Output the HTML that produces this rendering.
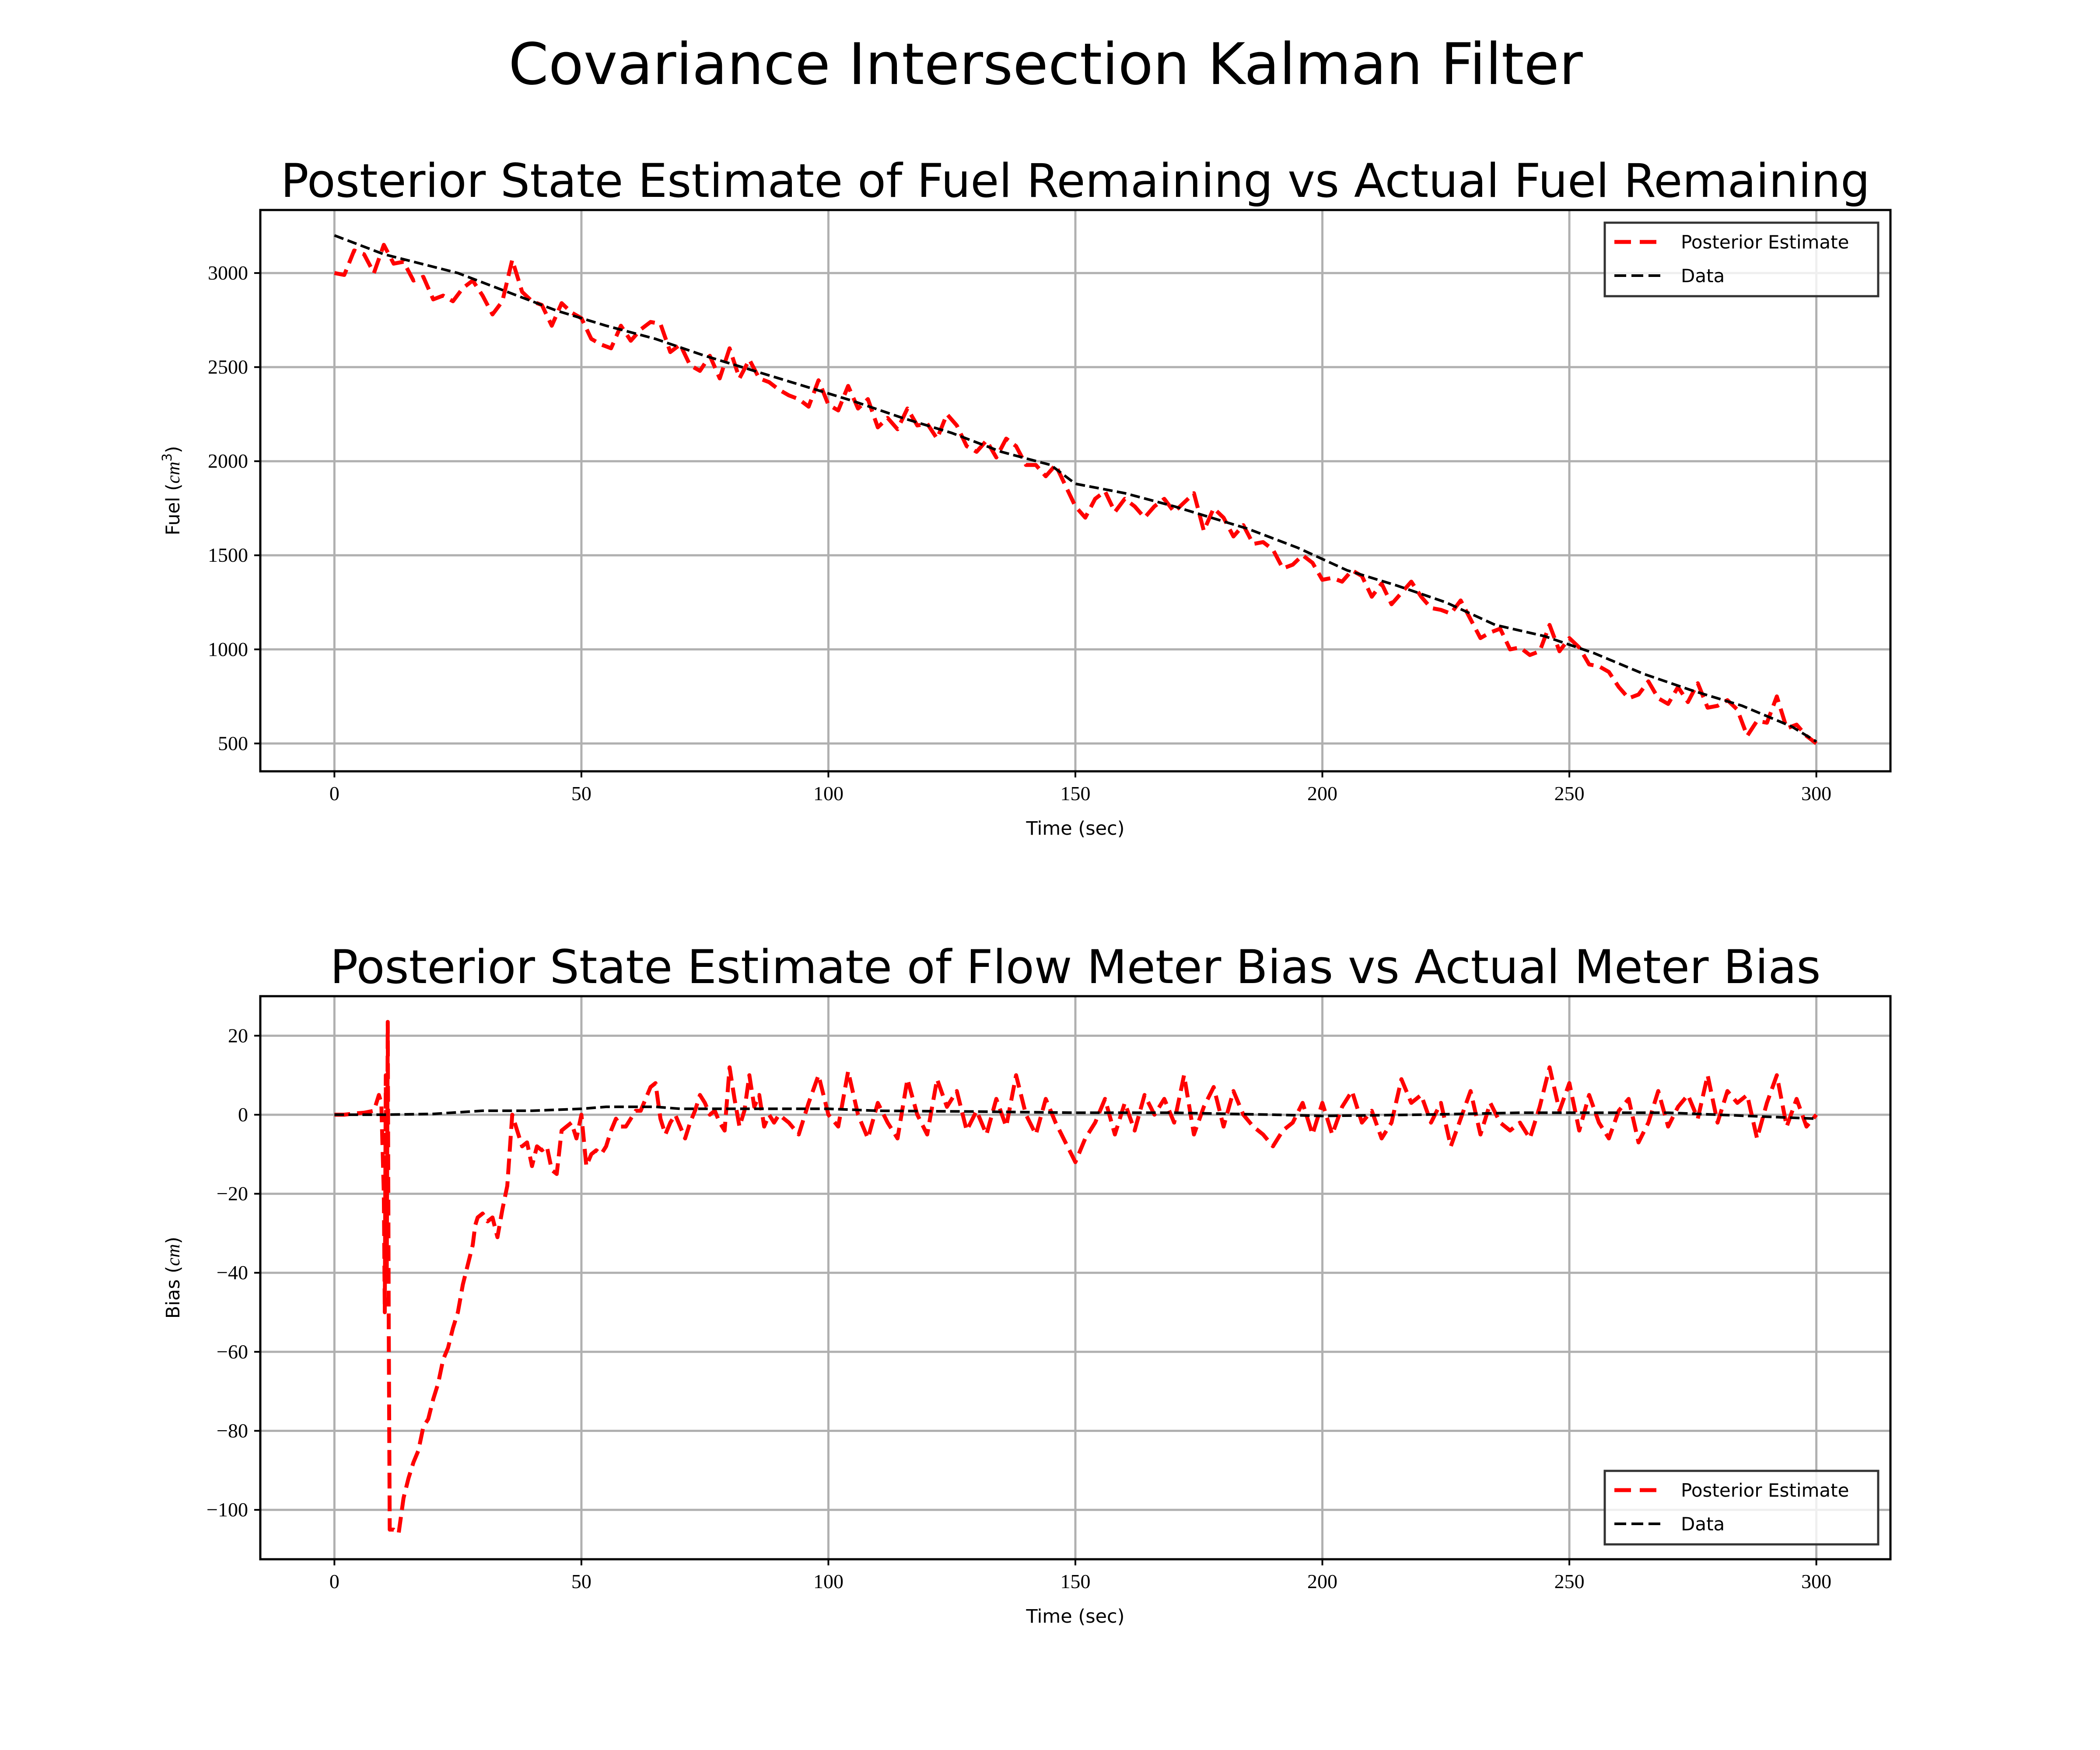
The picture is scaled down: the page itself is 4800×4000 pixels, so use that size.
<!DOCTYPE html>
<html><head><meta charset="utf-8"><style>
html,body{margin:0;padding:0;background:#fff;}
svg{display:block;}
.t{font-family:"DejaVu Sans","Liberation Sans",sans-serif;fill:#000;}
.tk{font-family:"Liberation Serif",serif;font-size:46px;fill:#000;}
</style></head><body>
<svg id="fig" width="4800" height="4000" xmlns="http://www.w3.org/2000/svg">
<rect width="4800" height="4000" fill="#fff"/>
<text class="t" x="2390" y="192" font-size="131" text-anchor="middle">Covariance Intersection Kalman Filter</text>
<g id="p1"></g>
<g id="p2"></g>
</svg>
<script>
// ---- Panel 1 data (fuel) ----
const fuelEstT = [0,2,4,6,8,10,12,14,16,18,20,22,24,26,28,30,32,34,36,38,40,42,44,46,48,50,52,54,56,58,60,62,64,66,68,70,72,74,76,78,80,82,84,86,88,90,92,94,96,98,100,102,104,106,108,110,112,114,116,118,120,122,124,126,128,130,132,134,136,138,140,142,144,146,148,150,152,154,156,158,160,162,164,166,168,170,172,174,176,178,180,182,184,186,188,190,192,194,196,198,200,202,204,206,208,210,212,214,216,218,220,222,224,226,228,230,232,234,236,238,240,242,244,246,248,250,252,254,256,258,260,262,264,266,268,270,272,274,276,278,280,282,284,286,288,290,292,294,296,298,300];
const fuelEstV = [3000,2990,3120,3100,3000,3150,3050,3060,2960,2980,2860,2880,2850,2920,2960,2880,2780,2850,3070,2900,2850,2830,2720,2840,2790,2760,2650,2620,2600,2720,2640,2700,2740,2730,2580,2620,2510,2480,2560,2440,2600,2440,2540,2440,2420,2380,2350,2330,2290,2430,2300,2270,2400,2280,2330,2180,2230,2170,2280,2190,2200,2120,2250,2190,2080,2050,2110,2020,2120,2080,1980,1980,1920,1980,1870,1760,1700,1800,1840,1730,1800,1760,1700,1760,1800,1730,1780,1830,1630,1750,1700,1600,1660,1560,1570,1530,1430,1450,1500,1460,1370,1380,1360,1420,1390,1280,1350,1240,1300,1360,1280,1220,1210,1190,1260,1160,1060,1090,1110,1000,1010,970,990,1130,990,1060,1010,920,910,880,800,740,760,830,740,710,800,720,820,690,700,730,680,540,620,610,750,580,600,540,500];
const fuelDataT = [0,10,25,35,45,55,65,75,85,95,105,115,125,135,145,150,160,170,180,185,195,205,215,225,235,245,255,265,275,285,295,300];
const fuelDataV = [3200,3100,3000,2900,2800,2720,2650,2560,2480,2400,2320,2230,2150,2050,1980,1880,1830,1760,1680,1640,1540,1420,1340,1250,1130,1070,980,870,780,700,590,510];
const fuelYTicks = [500,1000,1500,2000,2500,3000];
// ---- Panel 2 data (bias) ----
const biasEstT = [0,2,4,6,8,9,9.5,10,10.2,10.4,10.6,10.8,11,11.2,12,13,14,15,16,17,18,19,20,21,22,23,24,25,26,27,28,28.5,29,30,31,32,33,34,35,36,37,38,39,40,41,42,43,44,45,46,47,48,49,50,51,52,53,54,55,56,57,58,59,60,61,62,63,64,65,66,67,68,69,70,71,72,73,74,75,76,77,78,79,80,81,82,83,84,85,86,87,88,89,90,92,94,96,98,100,102,104,106,108,110,112,114,116,118,120,122,124,126,128,130,132,134,136,138,140,142,144,146,148,150,152,154,156,158,160,162,164,166,168,170,172,174,176,178,180,182,184,186,188,190,192,194,196,198,200,202,204,206,208,210,212,214,216,218,220,222,224,226,228,230,232,234,236,238,240,242,244,246,248,250,252,254,256,258,260,262,264,266,268,270,272,274,276,278,280,282,284,286,288,290,292,294,296,298,300];
const biasEstV = [0,0,0.3,0.5,1,5,3,-20,-50,10,-40,23.5,-55,-105,-105,-106,-97,-92,-88,-85,-79,-77,-72,-68,-62,-59,-54,-50,-43,-38,-33,-28,-26,-25,-27,-26,-31,-24,-18,0,-4,-8,-7,-13,-8,-9,-8,-14,-15,-4,-3,-2,-6,0,-13,-10,-9,-10,-8,-4,-1,-3,-3,-1,1,1,4,7,8,-1,-5,-2,0,-3,-6,-2,1,5,3,0,1,-2,-4,12,4,-3,1,10,2,5,-3,0,-2,0,-2,-5,3,10,0,-3,11,0,-6,3,-2,-6,9,0,-5,9,2,6,-4,1,-5,4,-3,10,0,-5,4,-2,-7,-12,-6,-2,4,-5,3,-4,5,0,4,-2,10,-5,2,7,-3,6,0,-3,-5,-8,-4,-2,3,-5,3,-5,2,6,-2,1,-6,-2,9,3,5,-2,3,-8,-1,6,-5,3,-2,-4,-2,-6,2,12,1,8,-4,5,-2,-6,1,4,-7,-2,6,-3,2,5,-1,10,-2,6,3,5,-6,3,10,-3,4,-3,0];
const biasDataT = [0,10,20,30,40,50,55,65,70,80,100,110,130,150,170,190,200,220,240,260,270,280,290,300];
const biasDataV = [0,0,0.2,1,1,1.5,2,2,1.5,1.5,1.5,1,0.8,0.5,0.5,0,-0.3,0,0.5,0.5,0.5,0,-0.5,-1];
const biasYTicks = [-100,-80,-60,-40,-20,0,20];
const xTicks = [0,50,100,150,200,250,300];
const xTickLabels = ["0","50","100","150","200","250","300"];

const NS='http://www.w3.org/2000/svg';
function mk(tag,attrs,parent){const e=document.createElementNS(NS,tag);for(const k in attrs)e.setAttribute(k,attrs[k]);parent.appendChild(e);return e;}
function yLabelText(v){return v<0?'\u2212'+Math.abs(v):String(v);}

function panel(g,cfg){
  const L=595,R=4321,T=cfg.top,B=cfg.bot;
  const x=t=>L+(t-cfg.xmin)/(cfg.xmax-cfg.xmin)*(R-L);
  const y=v=>B-(v-cfg.ymin)/(cfg.ymax-cfg.ymin)*(B-T);
  const grid=mk('g',{},g);
  
  
  xTicks.forEach((t,i)=>{
    const ln=mk('line',{x1:x(t),x2:x(t),y1:T,y2:B,stroke:'#b0b0b0','stroke-width':5},grid);
    
    
    const tk=mk('line',{x1:x(t),x2:x(t),y1:B,y2:B+14,stroke:'#000','stroke-width':4},g);
    
    
    const tl=mk('text',{x:x(t),y:B+66,'text-anchor':'middle',class:'tk'},g);
    tl.textContent=xTickLabels[i];
    
    
  });
  cfg.yTicks.forEach(v=>{
    const ln=mk('line',{x1:L,x2:R,y1:y(v),y2:y(v),stroke:'#b0b0b0','stroke-width':5},grid);
    
    
    const tk=mk('line',{x1:L-14,x2:L,y1:y(v),y2:y(v),stroke:'#000','stroke-width':4},g);
    
    
    const tl=mk('text',{x:L-28,y:y(v)+15,'text-anchor':'end',class:'tk'},g);
    tl.textContent=yLabelText(v);
    
    
  });
  const cp='clip'+cfg.id;
  const cl=mk('clipPath',{id:cp},g);
  mk('rect',{x:L,y:T,width:R-L,height:B-T},cl);
  const pts=(ts,vs)=>ts.map((t,i)=>x(t).toFixed(1)+','+y(vs[i]).toFixed(1)).join(' ');
  const est=mk('polyline',{points:pts(cfg.estT,cfg.estV),fill:'none',stroke:'#ff0000','stroke-width':9,'stroke-dasharray':'36,16','stroke-linejoin':'round','clip-path':'url(#'+cp+')'},g);
  
  
  const dat=mk('polyline',{points:pts(cfg.datT,cfg.datV),fill:'none',stroke:'#000','stroke-width':6,'stroke-dasharray':'22,10','clip-path':'url(#'+cp+')'},g);
  
  
  const fr=mk('rect',{x:L,y:T,width:R-L,height:B-T,fill:'none',stroke:'#000','stroke-width':5},g);
  
  
  const st=mk('text',{x:(L+R)/2,y:T-30,'text-anchor':'middle',class:'t','font-size':106},g);
  st.textContent=cfg.title;
  
  
  const xl=mk('text',{x:(L+R)/2,y:B+145,'text-anchor':'middle',class:'t','font-size':43},g);
  xl.textContent='Time (sec)';
  
  
  const yl=mk('text',{x:0,y:0,'text-anchor':'middle',class:'t','font-size':43,transform:'translate(410,'+((T+B)/2)+') rotate(-90)'},g);
  yl.innerHTML=cfg.ylabel;
  
  
  // legend
  const lg=mk('g',{},g);
  
  
  const ly=cfg.legTop;
  mk('rect',{x:3668,y:ly,width:625,height:168,fill:'#fff','fill-opacity':0.8,stroke:'#333','stroke-width':5},lg);
  const e1=mk('line',{x1:3690,x2:3790,y1:ly+44,y2:ly+44,stroke:'#ff0000','stroke-width':9,'stroke-dasharray':'38,20'},lg);
  
  
  const t1=mk('text',{x:3842,y:ly+59,class:'t','font-size':42},lg);
  t1.textContent='Posterior Estimate';
  
  
  const e2=mk('line',{x1:3690,x2:3795,y1:ly+121,y2:ly+121,stroke:'#000','stroke-width':6,'stroke-dasharray':'27,12'},lg);
  
  
  const t2=mk('text',{x:3842,y:ly+136,class:'t','font-size':42},lg);
  t2.textContent='Data';
  
  
}
panel(document.getElementById('p1'),{id:1,top:480,bot:1763,xmin:-15,xmax:315,ymin:352,ymax:3335,yTicks:fuelYTicks,
  estT:fuelEstT,estV:fuelEstV,datT:fuelDataT,datV:fuelDataV,title:'Posterior State Estimate of Fuel Remaining vs Actual Fuel Remaining',
  ylabel:'Fuel (<tspan font-style="italic" font-family="Liberation Serif">cm</tspan><tspan font-size="30" dy="-18">3</tspan><tspan dy="18">)</tspan>',legTop:509});
panel(document.getElementById('p2'),{id:2,top:2277,bot:3564,xmin:-15,xmax:315,ymin:-112.5,ymax:30,yTicks:biasYTicks,
  estT:biasEstT,estV:biasEstV,datT:biasDataT,datV:biasDataV,title:'Posterior State Estimate of Flow Meter Bias vs Actual Meter Bias',
  ylabel:'Bias (<tspan font-style="italic" font-family="Liberation Serif">cm</tspan>)',legTop:3362});
</script>
</body></html>
